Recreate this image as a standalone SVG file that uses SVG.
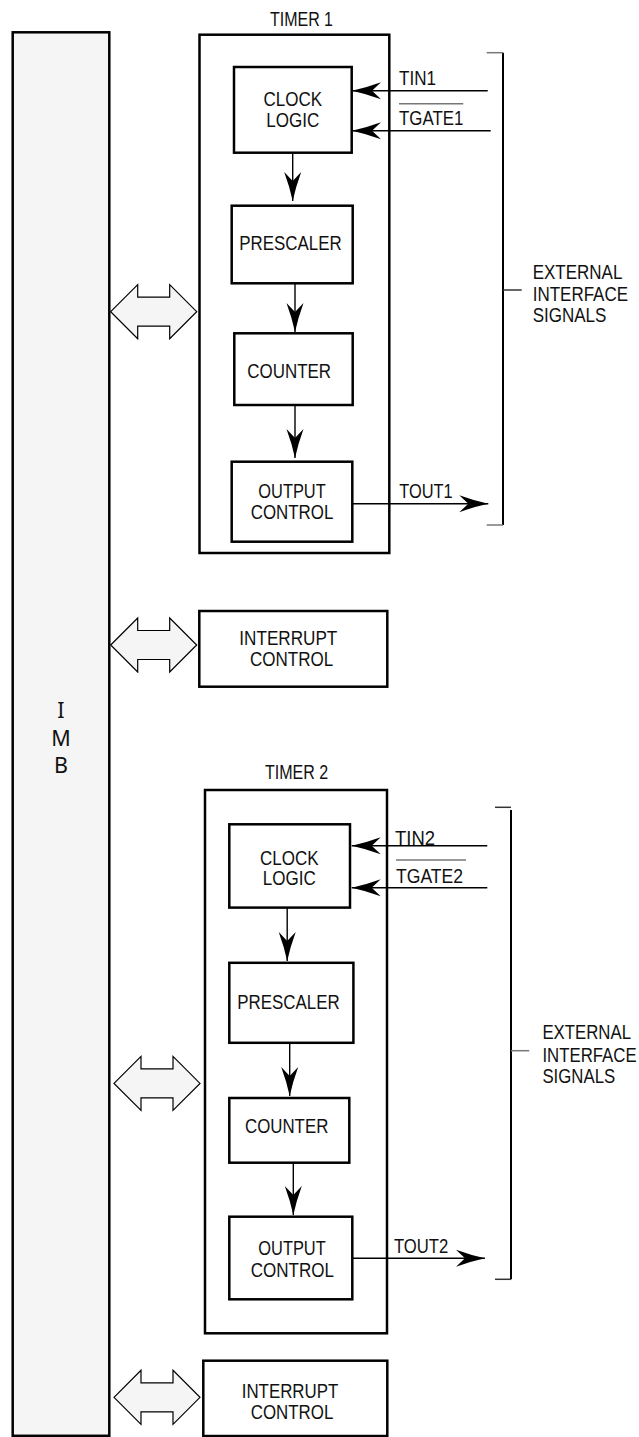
<svg xmlns="http://www.w3.org/2000/svg" width="639" height="1437" viewBox="0 0 639 1437">
<style>
.box{fill:#fff;stroke:#000;stroke-width:2.5}
.imb{fill:#f5f5f5;stroke:#000;stroke-width:2.5}
.dbl{fill:#f5f5f5;stroke:#000;stroke-width:1.2;stroke-linejoin:miter}
.wire{fill:none;stroke:#000;stroke-width:1.4}
.tick{fill:none;stroke:#777;stroke-width:1.5}
.brk{fill:none;stroke:#000;stroke-width:2}
.ovl{fill:none;stroke:#777;stroke-width:1.4}
text{font-family:"Liberation Sans",Arial,sans-serif;font-size:20px;fill:#111}
.c{text-anchor:middle}
.imbt{font-family:"Noto Sans","Open Sans",sans-serif;font-size:21.5px;text-anchor:middle}
</style>
<defs>
<marker id="ah" markerUnits="userSpaceOnUse" markerWidth="34" markerHeight="22" viewBox="-30 -11 34 22" refX="0" refY="0" orient="auto">
<path d="M0,0 Q-14,-3 -29,-8.5 L-20,0 L-29,8.5 Q-14,3 0,0 Z" fill="#000"/>
</marker>
<path id="darrow" d="M0,0 L27,-27 L27,-14.5 L59,-14.5 L59,-27 L86,0 L59,27 L59,14.5 L27,14.5 L27,27 Z"/>
</defs>

<g id="imb">
<rect class="imb" x="12.7" y="32.3" width="96.6" height="1403.5"/>
<text class="imbt" x="61" y="718.3">I</text>
<text class="imbt" x="61" y="745.7">M</text>
<text class="imbt" x="61" y="772.7">B</text>
</g>

<g id="timer1">
<text x="270" y="26" textLength="63" lengthAdjust="spacingAndGlyphs">TIMER 1</text>
<rect class="box" x="199.5" y="34.7" width="189.8" height="518.3"/>
</g>
<g id="clock1">
<rect class="box" x="234" y="67" width="117.7" height="85.7"/>
<text class="c" x="292.8" y="106" textLength="58.6" lengthAdjust="spacingAndGlyphs">CLOCK</text>
<text class="c" x="292.8" y="126.7" textLength="53" lengthAdjust="spacingAndGlyphs">LOGIC</text>
</g>
<g id="prescaler1">
<rect class="box" x="231.7" y="205.7" width="121" height="77.6"/>
<text x="239.3" y="250" textLength="102.4" lengthAdjust="spacingAndGlyphs">PRESCALER</text>
</g>
<g id="counter1">
<rect class="box" x="234.3" y="333.3" width="118.4" height="71.7"/>
<text x="247.3" y="378.3" textLength="83.7" lengthAdjust="spacingAndGlyphs">COUNTER</text>
</g>
<g id="output1">
<rect class="box" x="231.7" y="461.7" width="120.6" height="80"/>
<text x="258.3" y="497.7" textLength="67.4" lengthAdjust="spacingAndGlyphs">OUTPUT</text>
<text x="250.7" y="519" textLength="82.6" lengthAdjust="spacingAndGlyphs">CONTROL</text>
</g>
<g id="interrupt1">
<rect class="box" x="199.3" y="611" width="188" height="75.7"/>
<text x="239.3" y="645" textLength="98" lengthAdjust="spacingAndGlyphs">INTERRUPT</text>
<text x="250" y="666" textLength="83.3" lengthAdjust="spacingAndGlyphs">CONTROL</text>
</g>
<g id="ext1" transform="translate(532.7,0) scale(0.85,1)">
<text x="0" y="279">EXTERNAL</text>
<text x="0" y="300.7">INTERFACE</text>
<text x="0" y="322.3">SIGNALS</text>
</g>

<g id="timer2">
<text x="265" y="779.3" textLength="63.3" lengthAdjust="spacingAndGlyphs">TIMER 2</text>
<rect class="box" x="205" y="790" width="182" height="543.3"/>
</g>
<g id="clock2">
<rect class="box" x="229.3" y="824.3" width="120.7" height="83.3"/>
<text class="c" x="289.3" y="865" textLength="58.6" lengthAdjust="spacingAndGlyphs">CLOCK</text>
<text class="c" x="289.3" y="885" textLength="53" lengthAdjust="spacingAndGlyphs">LOGIC</text>
</g>
<g id="prescaler2">
<rect class="box" x="229.3" y="962.8" width="124.1" height="80"/>
<text x="237.2" y="1009.3" textLength="102.5" lengthAdjust="spacingAndGlyphs">PRESCALER</text>
</g>
<g id="counter2">
<rect class="box" x="229.3" y="1098" width="120" height="64.7"/>
<text x="245" y="1132.7" textLength="83.3" lengthAdjust="spacingAndGlyphs">COUNTER</text>
</g>
<g id="output2">
<rect class="box" x="229.3" y="1216.7" width="123" height="82.6"/>
<text x="258.3" y="1255" textLength="67.4" lengthAdjust="spacingAndGlyphs">OUTPUT</text>
<text x="250.7" y="1276.7" textLength="83.3" lengthAdjust="spacingAndGlyphs">CONTROL</text>
</g>
<g id="interrupt2">
<rect class="box" x="203.3" y="1360.7" width="184" height="75.3"/>
<text x="241.7" y="1398.3" textLength="96.6" lengthAdjust="spacingAndGlyphs">INTERRUPT</text>
<text x="250.7" y="1419.3" textLength="82.6" lengthAdjust="spacingAndGlyphs">CONTROL</text>
</g>
<g id="ext2" transform="translate(542.4,0) scale(0.84,1)">
<text x="0" y="1039.3">EXTERNAL</text>
<text x="0" y="1061.7">INTERFACE</text>
<text x="0" y="1083.4">SIGNALS</text>
</g>

<g id="connectors">
<use href="#darrow" class="dbl" transform="translate(110.7,311.7)"/>
<use href="#darrow" class="dbl" transform="translate(110.7,645)"/>
<use href="#darrow" class="dbl" transform="translate(114,1083.4)"/>
<use href="#darrow" class="dbl" transform="translate(114,1397.3)"/>

<line class="wire" x1="487.7" y1="90.7" x2="352" y2="90.7" marker-end="url(#ah)"/>
<line class="wire" x1="490.7" y1="130.7" x2="352" y2="130.7" marker-end="url(#ah)"/>
<line class="wire" x1="292.7" y1="152.7" x2="292.7" y2="201" marker-end="url(#ah)"/>
<line class="wire" x1="295" y1="283.3" x2="295" y2="332" marker-end="url(#ah)"/>
<line class="wire" x1="295" y1="405" x2="295" y2="458" marker-end="url(#ah)"/>
<line class="wire" x1="352.3" y1="503.7" x2="488.3" y2="503.7" marker-end="url(#ah)"/>
<text x="399" y="85" textLength="37" lengthAdjust="spacingAndGlyphs">TIN1</text>
<text x="399" y="125" textLength="64.3" lengthAdjust="spacingAndGlyphs">TGATE1</text>
<line class="ovl" x1="399" y1="103.7" x2="463.3" y2="103.7"/>
<text x="399.3" y="498.3" textLength="53.4" lengthAdjust="spacingAndGlyphs">TOUT1</text>
<polyline class="brk" points="503,52.7 503,525"/>
<line class="tick" x1="486.7" y1="52.7" x2="503" y2="52.7"/>
<line class="tick" x1="486.7" y1="525" x2="503" y2="525"/>
<line class="tick" x1="503" y1="290" x2="521.7" y2="290" style="stroke:#333"/>

<line class="wire" x1="487.3" y1="845.7" x2="351.7" y2="845.7" marker-end="url(#ah)"/>
<line class="wire" x1="487.3" y1="887.7" x2="351.7" y2="887.7" marker-end="url(#ah)"/>
<line class="wire" x1="287.2" y1="907.6" x2="287.2" y2="961" marker-end="url(#ah)"/>
<line class="wire" x1="289.7" y1="1042.8" x2="289.7" y2="1096" marker-end="url(#ah)"/>
<line class="wire" x1="293.3" y1="1162.7" x2="293.3" y2="1215" marker-end="url(#ah)"/>
<line class="wire" x1="352.3" y1="1258.3" x2="485" y2="1258.3" marker-end="url(#ah)"/>
<text x="395" y="845" textLength="40" lengthAdjust="spacingAndGlyphs">TIN2</text>
<text x="396" y="883" textLength="67" lengthAdjust="spacingAndGlyphs">TGATE2</text>
<line class="ovl" x1="396" y1="860" x2="466" y2="860"/>
<text x="394" y="1253.3" textLength="54.3" lengthAdjust="spacingAndGlyphs">TOUT2</text>
<polyline class="brk" points="511,810 511,1279.3"/>
<line class="tick" x1="495" y1="807.3" x2="511" y2="807.3" style="stroke:#333"/>
<line class="tick" x1="495" y1="1279.3" x2="511" y2="1279.3" style="stroke:#333"/>
<line class="tick" x1="511" y1="1050.7" x2="529.3" y2="1050.7"/>
</g>
</svg>
